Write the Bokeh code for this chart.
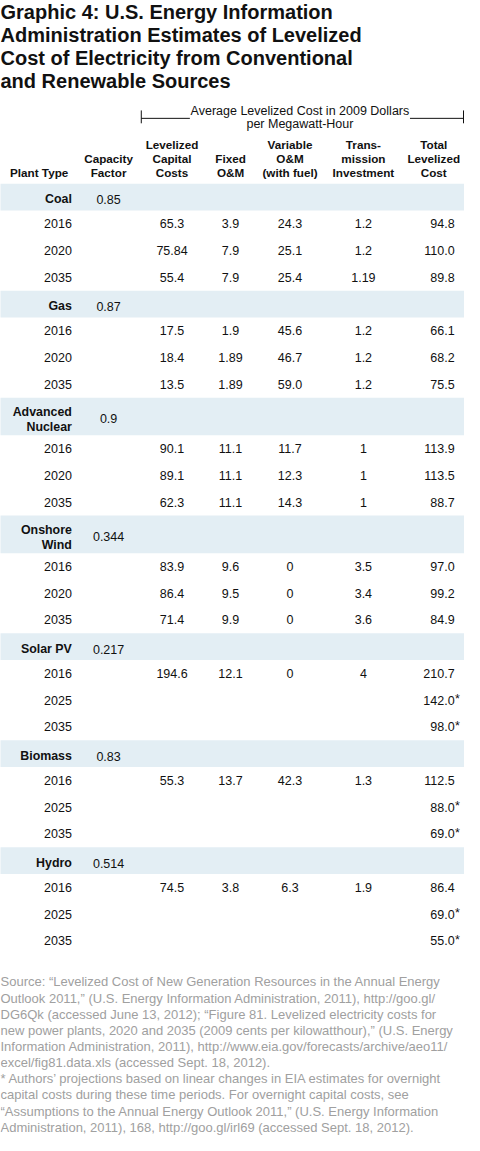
from bokeh.plotting import figure
from bokeh.models import ColumnDataSource, Range1d
from bokeh.core.properties import value
from bokeh.embed import file_html
from bokeh.resources import INLINE

# table data
plant_labels = ["Coal", "Gas", "Advanced\nNuclear", "Onshore\nWind", "Solar PV", "Biomass", "Hydro"]
capacity_factors = ["0.85", "0.87", "0.9", "0.344", "0.217", "0.83", "0.514"]
years = [["2016", "2020", "2035"], ["2016", "2020", "2035"], ["2016", "2020", "2035"],
         ["2016", "2020", "2035"], ["2016", "2025", "2035"], ["2016", "2025", "2035"],
         ["2016", "2025", "2035"]]
capital_costs = [["65.3", "75.84", "55.4"], ["17.5", "18.4", "13.5"], ["90.1", "89.1", "62.3"],
                 ["83.9", "86.4", "71.4"], ["194.6", "", ""], ["55.3", "", ""], ["74.5", "", ""]]
fixed_om = [["3.9", "7.9", "7.9"], ["1.9", "1.89", "1.89"], ["11.1", "11.1", "11.1"],
            ["9.6", "9.5", "9.9"], ["12.1", "", ""], ["13.7", "", ""], ["3.8", "", ""]]
variable_om = [["24.3", "25.1", "25.4"], ["45.6", "46.7", "59.0"], ["11.7", "12.3", "14.3"],
               ["0", "0", "0"], ["0", "", ""], ["42.3", "", ""], ["6.3", "", ""]]
transmission = [["1.2", "1.2", "1.19"], ["1.2", "1.2", "1.2"], ["1", "1", "1"],
                ["3.5", "3.4", "3.6"], ["4", "", ""], ["1.3", "", ""], ["1.9", "", ""]]
total_cost = [["94.8", "110.0", "89.8"], ["66.1", "68.2", "75.5"], ["113.9", "113.5", "88.7"],
              ["97.0", "99.2", "84.9"], ["210.7", "142.0*", "98.0*"], ["112.5", "88.0*", "69.0*"],
              ["86.4", "69.0*", "55.0*"]]

title_lines = ["Graphic 4: U.S. Energy Information",
               "Administration Estimates of Levelized",
               "Cost of Electricity from Conventional",
               "and Renewable Sources"]
span_label = ["Average Levelized Cost in 2009 Dollars", "per Megawatt-Hour"]
# header lines per column, bottom aligned
headers = [["", "", "Plant Type"], ["", "Capacity", "Factor"], ["Levelized", "Capital", "Costs"],
           ["", "Fixed", "O&M"], ["Variable", "O&M", "(with fuel)"],
           ["Trans-", "mission", "Investment"], ["Total", "Levelized", "Cost"]]
notes = ["Source: \u201cLevelized Cost of New Generation Resources in the Annual Energy",
         "Outlook 2011,\u201d (U.S. Energy Information Administration, 2011), http://goo.gl/",
         "DG6Qk (accessed June 13, 2012); \u201cFigure 81. Levelized electricity costs for",
         "new power plants, 2020 and 2035 (2009 cents per kilowatthour),\u201d (U.S. Energy",
         "Information Administration, 2011), http://www.eia.gov/forecasts/archive/aeo11/",
         "excel/fig81.data.xls (accessed Sept. 18, 2012).",
         "* Authors\u2019 projections based on linear changes in EIA estimates for overnight",
         "capital costs during these time periods. For overnight capital costs, see",
         "\u201cAssumptions to the Annual Energy Outlook 2011,\u201d (U.S. Energy Information",
         "Administration, 2011), 168, http://goo.gl/irl69 (accessed Sept. 18, 2012)."]

FONT = "Liberation Sans"
INK = "#111111"
BAND = "#e3eef4"

p = figure(width=464, height=1135, x_range=Range1d(6, 474), y_range=Range1d(1148, 2),
           toolbar_location=None, output_backend="svg", min_border=0)
p.axis.visible = False
p.grid.visible = False
p.outline_line_color = None


def add_text(xs, ys, texts, size, align="left", bold=False, color=INK):
    src = ColumnDataSource(dict(x=xs, y=ys, text=texts))
    p.text("x", "y", text="text", source=src, text_font=value(FONT),
           text_font_size=f"{size}px", text_font_style="bold" if bold else "normal",
           text_align=align, text_baseline="middle", text_color=color)


# title
add_text([6] * len(title_lines), [14 + 23 * i for i in range(len(title_lines))],
         title_lines, 20, bold=True)

# span bracket over the cost columns
add_text([308, 308], [114, 126.5], span_label, 12.5, align="center")
p.segment(x0=[148, 419, 148, 473], y0=[121, 121, 113, 113],
          x1=[197, 473, 148, 473], y1=[121, 121, 126, 126], line_color=INK, line_width=1)

# column headers
header_x = [45, 115, 179, 238, 298, 372, 443]
hx, hy, ht = [], [], []
for x, lines in zip(header_x, headers):
    for j, t in enumerate(lines):
        if t:
            hx.append(x)
            hy.append(147 + 14.3 * j)
            ht.append(t)
add_text(hx, hy, ht, 11.7, align="center", bold=True)

# body rows
band_top, band_bot = [], []
lab_x, lab_y, lab_t = [], [], []
cf_y = []
row_y = []
y = 187
for label in plant_labels:
    parts = label.split("\n")
    h = 27 + 11 * (len(parts) - 1)
    band_top.append(y)
    band_bot.append(y + h)
    if len(parts) > 1:
        offsets = [14.5, 29.5]
    else:
        offsets = [15.5]
    for part, off in zip(parts, offsets):
        lab_x.append(78)
        lab_y.append(y + off)
        lab_t.append(part)
    cf_y.append(y + h / 2 + 2.5)
    rows = [y + h + 13.5 + 27 * k for k in range(3)]
    row_y.append(rows)
    y = y + h + 81

p.quad(left=4, right=476, top=band_top, bottom=band_bot, fill_color=BAND, line_color=None)
add_text(lab_x, lab_y, lab_t, 12.4, align="right", bold=True)
add_text([115] * len(capacity_factors), cf_y, capacity_factors, 12.5, align="center")


def flat(table):
    return [v for rows in table for v in rows]


flat_y = flat(row_y)
add_text([78] * len(flat_y), flat_y, flat(years), 12.5, align="right")
add_text([179] * len(flat_y), flat_y, flat(capital_costs), 12.5, align="center")
add_text([238] * len(flat_y), flat_y, flat(fixed_om), 12.5, align="center")
add_text([298] * len(flat_y), flat_y, flat(variable_om), 12.5, align="center")
add_text([372] * len(flat_y), flat_y, flat(transmission), 12.5, align="center")

# totals are right aligned on the number, the projection star hangs outside
totals = flat(total_cost)
add_text([464] * len(flat_y), flat_y, [t.rstrip("*") for t in totals], 12.5, align="right")
star_y = [yy for yy, t in zip(flat_y, totals) if t.endswith("*")]
add_text([464.5] * len(star_y), [yy - 1 for yy in star_y], ["*"] * len(star_y), 12.5)

# source notes
add_text([6] * len(notes), [993 + 16.3 * i for i in range(len(notes))], notes, 13,
         color="#a0a0a0")

open("out.html", "w").write(file_html(p, INLINE))
